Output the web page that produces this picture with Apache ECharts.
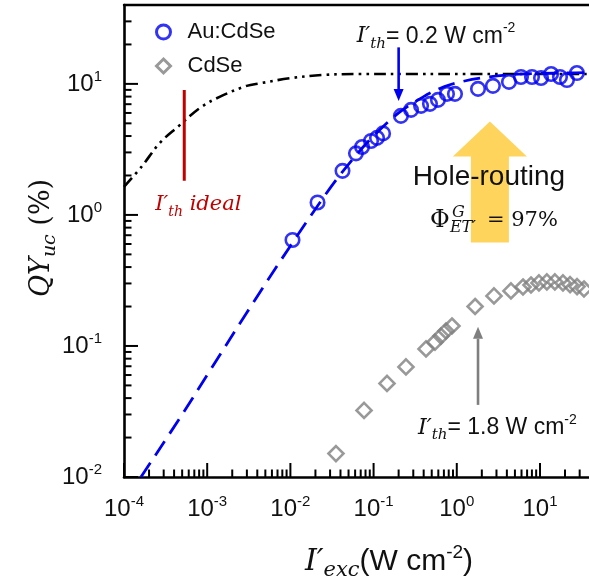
<!DOCTYPE html>
<html>
<head>
<meta charset="utf-8">
<script src="https://cdn.jsdelivr.net/npm/echarts@6/dist/echarts.min.js"></script>
<style>
  html, body { margin: 0; padding: 0; background: #fff; }
  #chart { width: 589px; height: 586px; }
</style>
</head>
<body>
<div id="chart"></div>
<script>
// Upconversion quantum yield vs. excitation intensity (log-log)

// Au:CdSe measurements
const auCdSeIntensity = [0.0106, 0.0212, 0.0423, 0.0614, 0.0727, 0.0931, 0.110, 0.130, 0.213, 0.282, 0.372, 0.476, 0.594, 0.762, 0.951, 1.80, 2.72, 4.24, 5.91, 8.02, 10.3, 13.6, 17.4, 21.1, 27.8];
const auCdSeQY = [0.644, 1.245, 2.17, 2.95, 3.30, 3.67, 3.87, 4.19, 5.70, 6.34, 6.80, 7.04, 7.55, 8.39, 8.39, 9.16, 9.66, 10.36, 11.3, 11.3, 11.1, 11.9, 11.3, 10.7, 12.1];

// CdSe measurements
const cdSeIntensity = [0.0353, 0.0768, 0.145, 0.245, 0.427, 0.547, 0.646, 0.741, 0.875, 1.66, 2.80, 4.48, 6.25, 7.80, 9.72, 12.1, 15.1, 18.9, 23.0, 27.9, 33.8];
const cdSeQY = [0.0151, 0.0322, 0.0518, 0.0692, 0.0949, 0.107, 0.119, 0.130, 0.142, 0.200, 0.241, 0.263, 0.282, 0.292, 0.303, 0.308, 0.308, 0.303, 0.294, 0.284, 0.272];

// Fit through the Au:CdSe data (dashed)
const fitIntensity = [1.6e-4, 5e-4, 1e-3, 3e-3, 0.01, 0.03, 0.06, 0.1, 0.2, 0.4, 0.7, 1, 2, 5, 10, 20, 42];
const fitQY = [0.0100, 0.030, 0.060, 0.18, 0.58, 1.6, 2.8, 4.0, 6.0, 8.0, 9.5, 10.2, 11.1, 11.8, 12.0, 12.1, 12.2];

// Ideal curve (dash-dot-dot)
const idealIntensity = [1.0e-4, 1.63e-4, 2.7e-4, 4.46e-4, 8.2e-4, 1.43e-3, 2.98e-3, 4.3e-3, 9.9e-3, 0.0248, 0.068, 0.3, 42];
const idealQY = [1.64, 2.34, 3.55, 4.72, 6.56, 8.0, 9.66, 10.1, 11.05, 11.7, 11.9, 11.9, 11.9];

// Ideal threshold marker
const idealThreshold = 5.3e-4;
const idealThresholdSpan = [1.82, 9.0];

// Threshold arrows: [intensity, QY at tail, QY at head]
const auThresholdArrow = [0.2, 19, 7.4];
const cdSeThresholdArrow = [1.8, 0.0355, 0.140];
const holeRoutingArrow = [2.5, 0.615, 5.16];

// Axis decades (tick labels are 10^exponent)
const xTickExponents = [-4, -3, -2, -1, 0, 1];
const yTickExponents = [-2, -1, 0, 1];
const X_MIN = 1e-4, X_MAX = 42.2;
const Y_MIN = 1e-2, Y_MAX = 40;

const BLUE = '#0000f0';
const GRAY = '#7f7f7f';
const RED = '#c00000';
const YELLOW = '#ffd45c';
const INK = '#111111';
const SANS = "'Liberation Sans', Arial, sans-serif";
const SERIF = "'DejaVu Serif', 'Liberation Serif', serif";

function minorValues(lo, hi) {
  const out = [];
  for (let e = Math.floor(Math.log10(lo)); e <= Math.ceil(Math.log10(hi)); e++) {
    for (let m = 2; m <= 9; m++) {
      const v = m * Math.pow(10, e);
      if (v > lo * 1.0001 && v < hi * 0.9999) out.push(v);
    }
  }
  return out;
}

// tick items: [value, axis (0 = x, 1 = y), major (1/0)]
const tickItems = []
  .concat(xTickExponents.map(e => [Math.pow(10, e), 0, 1]))
  .concat(minorValues(X_MIN, X_MAX).map(v => [v, 0, 0]))
  .concat(yTickExponents.map(e => [Math.pow(10, e), 1, 1]))
  .concat(minorValues(Y_MIN, Y_MAX).map(v => [v, 1, 0]));

function zip(a, b) { return a.map((v, i) => [v, b[i]]); }

function tickLabel(v) {
  const e = Math.log10(v);
  const r = Math.round(e);
  if (Math.abs(e - r) > 1e-6) return '';
  return '{b|10}{s|' + r + '}';
}
const tickRich = {
  b: { fontFamily: SANS, fontSize: 24, color: INK, lineHeight: 30 },
  s: { fontFamily: SANS, fontSize: 15, color: INK, verticalAlign: 'top', lineHeight: 15 }
};

function annoRich(color, mainSize, subSize, sansSize, supSize) {
  const lh = mainSize + 8;
  return {
    iv: { fontFamily: SERIF, fontStyle: 'italic', fontSize: mainSize, fill: color, lineHeight: lh },
    sb: { fontFamily: SERIF, fontStyle: 'italic', fontSize: subSize, fill: color, verticalAlign: 'bottom', lineHeight: subSize },
    tx: { fontFamily: SANS, fontSize: sansSize, fill: color, lineHeight: lh },
    sp: { fontFamily: SANS, fontSize: supSize, fill: color, verticalAlign: 'top', lineHeight: supSize }
  };
}

function textEl(x, y, text, rich) {
  return {
    type: 'text', x: x, y: y, z2: 10,
    style: { text: text, rich: rich, align: 'left', verticalAlign: 'middle' }
  };
}

// thin arrow with a triangular head; label placed relative to the tail
function thinArrow(color, label, dx, dy) {
  return function (params, api) {
    const a = api.coord([api.value(0), api.value(1)]);
    const b = api.coord([api.value(0), api.value(2)]);
    const dir = Math.sign(b[1] - a[1]);
    const head = 12, hw = 5;
    return {
      type: 'group',
      children: [
        { type: 'line', shape: { x1: a[0], y1: a[1], x2: b[0], y2: b[1] - dir * head },
          style: { stroke: color, lineWidth: 2.6 } },
        { type: 'polygon', shape: { points: [[b[0], b[1]], [b[0] - hw, b[1] - dir * head], [b[0] + hw, b[1] - dir * head]] },
          style: { fill: color } },
        textEl(a[0] + dx, a[1] + dy, label, annoRich(INK, 22, 15, 23, 14))
      ]
    };
  };
}

const option = {
  animation: false,
  backgroundColor: '#ffffff',
  grid: { left: 124, top: 5, right: -3, bottom: 109, outerBoundsMode: 'none' },
  legend: {
    orient: 'vertical', left: 155, top: 21, padding: 0,
    itemWidth: 14, itemHeight: 14, itemGap: 12,
    textStyle: { fontFamily: SANS, fontSize: 22, color: INK, padding: [0, 0, 0, 12] },
    data: [
      { name: 'Au:CdSe', icon: 'circle', itemStyle: { color: 'rgba(0,0,0,0)', borderColor: BLUE, borderWidth: 3 } },
      { name: 'CdSe', icon: 'diamond', itemStyle: { color: 'rgba(0,0,0,0)', borderColor: GRAY, borderWidth: 3 } }
    ]
  },
  xAxis: [{
    type: 'log', logBase: 10, min: X_MIN, max: X_MAX,
    axisLine: { show: true, lineStyle: { color: '#000', width: 2.6 } },
    axisTick: { show: false },
    axisLabel: { show: true, margin: 17, formatter: tickLabel, rich: tickRich, showMinLabel: true, showMaxLabel: true, hideOverlap: false },
    splitLine: { show: false }
  }, {
    type: 'log', logBase: 10, min: X_MIN, max: X_MAX, position: 'top',
    axisLine: { show: true, lineStyle: { color: '#000', width: 2.4 } },
    axisTick: { show: false }, axisLabel: { show: false }, splitLine: { show: false }
  }],
  yAxis: {
    type: 'log', logBase: 10, min: Y_MIN, max: Y_MAX,
    axisLine: { show: true, lineStyle: { color: '#000', width: 2.6 } },
    axisTick: { show: false },
    axisLabel: { show: true, margin: 22, formatter: tickLabel, rich: tickRich, showMinLabel: true, showMaxLabel: true, hideOverlap: false },
    splitLine: { show: false }
  },
  series: [
    {
      // hole-routing arrow with its caption
      type: 'custom', name: 'hole-routing', coordinateSystem: 'cartesian2d', silent: true, z: 1,
      encode: { x: 0, y: [1, 2] },
      data: [holeRoutingArrow],
      renderItem: function (params, api) {
        const base = api.coord([api.value(0), api.value(1)]);
        const tip = api.coord([api.value(0), api.value(2)]);
        const sw = 19, hw = 37, hl = 35;
        const cx = tip[0];
        const greek = { fontFamily: SERIF, fill: INK };
        return {
          type: 'group',
          children: [
            { type: 'polygon', z2: 1, shape: { points: [
                [cx, tip[1]], [cx + hw, tip[1] + hl], [cx + sw, tip[1] + hl], [cx + sw, base[1]],
                [cx - sw, base[1]], [cx - sw, tip[1] + hl], [cx - hw, tip[1] + hl]] },
              style: { fill: YELLOW } },
            { type: 'text', z2: 10, x: cx - 1, y: tip[1] + 56,
              style: { text: 'Hole-routing', fontFamily: SANS, fontSize: 28, fill: INK, align: 'center', verticalAlign: 'middle' } },
            { type: 'text', z2: 10, x: cx - 60, y: tip[1] + 99,
              style: Object.assign({ text: 'Φ', fontSize: 24, align: 'left', verticalAlign: 'middle' }, greek) },
            { type: 'text', z2: 10, x: cx - 38, y: tip[1] + 91,
              style: Object.assign({ text: 'G', fontSize: 16, fontStyle: 'italic', align: 'left', verticalAlign: 'middle' }, greek) },
            { type: 'text', z2: 10, x: cx - 40, y: tip[1] + 106,
              style: Object.assign({ text: 'ET′', fontSize: 16, fontStyle: 'italic', align: 'left', verticalAlign: 'middle' }, greek) },
            { type: 'text', z2: 10, x: cx - 3, y: tip[1] + 99,
              style: Object.assign({ text: '= 97%', fontSize: 21, align: 'left', verticalAlign: 'middle' }, greek) }
          ]
        };
      }
    },
    {
      name: 'ideal', type: 'line', data: zip(idealIntensity, idealQY),
      showSymbol: false, smooth: 0.35, z: 2, silent: true,
      lineStyle: { color: '#000', width: 2.6, type: [12, 5, 2.6, 5, 2.6, 5] }
    },
    {
      name: 'ideal threshold', type: 'line', z: 3, silent: true, showSymbol: false,
      data: [[idealThreshold, idealThresholdSpan[0]], [idealThreshold, idealThresholdSpan[1]]],
      lineStyle: { color: RED, width: 3, type: 'solid' }
    },
    {
      // label below the ideal threshold marker
      type: 'custom', name: 'ideal threshold label', coordinateSystem: 'cartesian2d', silent: true, z: 3,
      data: [[idealThreshold, idealThresholdSpan[0]]],
      renderItem: function (params, api) {
        const p = api.coord([api.value(0), api.value(1)]);
        return textEl(p[0] - 29, p[1] + 24, '{iv|I′}{sb|th}{iv| ideal}', annoRich(RED, 21, 14, 21, 14));
      }
    },
    {
      name: 'fit', type: 'line', data: zip(fitIntensity, fitQY),
      showSymbol: false, smooth: 0.35, z: 2, silent: true,
      lineStyle: { color: BLUE, width: 2.8, type: [17, 9] }
    },
    {
      name: 'Au:CdSe', type: 'scatter', data: zip(auCdSeIntensity, auCdSeQY), z: 4,
      symbol: 'circle', symbolSize: 13.5,
      itemStyle: { color: 'rgba(0,0,0,0)', borderColor: BLUE, borderWidth: 2.6 }
    },
    {
      name: 'CdSe', type: 'scatter', data: zip(cdSeIntensity, cdSeQY), z: 4,
      symbol: 'diamond', symbolSize: 15,
      itemStyle: { color: 'rgba(0,0,0,0)', borderColor: GRAY, borderWidth: 2.6 }
    },
    {
      type: 'custom', name: 'Au threshold', coordinateSystem: 'cartesian2d', silent: true, z: 5,
      encode: { x: 0, y: [1, 2] },
      data: [auThresholdArrow],
      renderItem: thinArrow(BLUE, '{iv|I′}{sb|th}{tx|= 0.2 W cm}{sp|-2}', -42, -11)
    },
    {
      type: 'custom', name: 'CdSe threshold', coordinateSystem: 'cartesian2d', silent: true, z: 5,
      encode: { x: 0, y: [1, 2] },
      data: [cdSeThresholdArrow],
      renderItem: thinArrow(GRAY, '{iv|I′}{sb|th}{tx|= 1.8 W cm}{sp|-2}', -60, 23)
    }
  ]
};

const chart = echarts.init(document.getElementById('chart'), null, { renderer: 'canvas' });
chart.setOption(option);

// axis titles
const titleGraphics = [
  {
    type: 'text', x: 389, y: 562, z: 100,
    style: {
      text: '{iv|I′}{sb|exc}{tx|(W cm}{sp|-2}{tx|)}',
      align: 'center', verticalAlign: 'middle',
      rich: annoRich(INK, 30, 21, 30, 19)
    }
  },
  {
    type: 'text', x: 42, y: 238, rotation: Math.PI / 2, z: 100,
    style: {
      text: '{q|QY}{s|uc}{p| (%)}',
      align: 'center', verticalAlign: 'middle',
      rich: {
        q: { fontFamily: SERIF, fontStyle: 'italic', fontSize: 27, fill: INK, lineHeight: 36 },
        s: { fontFamily: SERIF, fontStyle: 'italic', fontSize: 19, fill: INK, verticalAlign: 'bottom', lineHeight: 19 },
        p: { fontFamily: SERIF, fontSize: 27, fill: INK, lineHeight: 36 }
      }
    }
  }
];

// inward major/minor ticks on the bottom and left axes, placed through the axis scales
const tickGraphics = tickItems.map(function (t) {
  const len = t[2] ? 14 : 7.5;
  if (t[1] === 0) {
    const p = chart.convertToPixel({ gridIndex: 0 }, [t[0], Y_MIN]);
    return { type: 'line', z: 100, silent: true,
      shape: { x1: p[0], y1: p[1], x2: p[0], y2: p[1] - len }, style: { stroke: '#000', lineWidth: 2 } };
  }
  const q = chart.convertToPixel({ gridIndex: 0 }, [X_MIN, t[0]]);
  return { type: 'line', z: 100, silent: true,
    shape: { x1: q[0], y1: q[1], x2: q[0] + len, y2: q[1] }, style: { stroke: '#000', lineWidth: 2 } };
});

chart.setOption({ graphic: titleGraphics.concat(tickGraphics) });
</script>
</body>
</html>
